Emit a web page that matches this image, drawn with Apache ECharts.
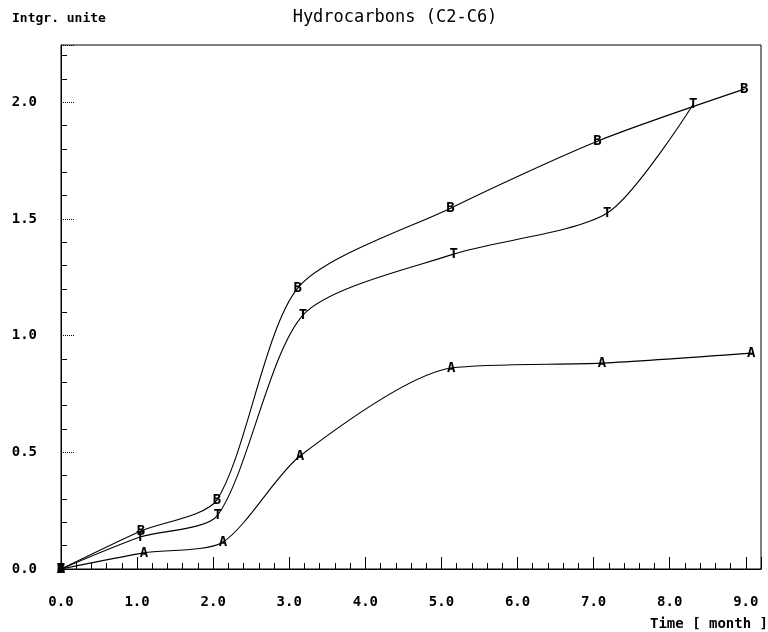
<!DOCTYPE html>
<html>
<head>
<meta charset="utf-8">
<script src="https://cdn.jsdelivr.net/npm/echarts@6/dist/echarts.min.js"></script>
<style>
  html, body { margin: 0; padding: 0; background: #fff; }
  #chart { width: 768px; height: 632px; }
</style>
</head>
<body>
<div id="chart"></div>
<script>
// ---- data ----
const titleText = 'Hydrocarbons (C2-C6)';
const yAxisTitle = 'Intgr. unite';
const xAxisTitle = 'Time [ month ]';

const seriesNames = ['B', 'T', 'A'];

const bX = [0.00, 1.05, 2.05, 3.11, 5.12, 7.05, 8.98];
const bY = [0.00, 0.163, 0.296, 1.203, 1.546, 1.833, 2.056];

const tX = [0.00, 1.04, 2.06, 3.18, 5.16, 7.18, 8.31];
const tY = [0.00, 0.137, 0.231, 1.088, 1.349, 1.525, 1.991];

const aX = [0.00, 1.09, 2.13, 3.14, 5.13, 7.11, 9.07];
const aY = [0.00, 0.069, 0.116, 0.484, 0.861, 0.882, 0.925];

const xMin = 0, xMax = 9.2, xStep = 1;
const yMin = 0, yMax = 2.245, yStep = 0.5;

// ---- chart ----
const pairs = (xs, ys) => xs.map((x, i) => [x, ys[i]]);
const mono = 'DejaVu Sans Mono';

function lineSeries(name, xs, ys) {
  return {
    name: name,
    type: 'line',
    smooth: 0.25,
    data: pairs(xs, ys),
    symbol: 'circle',
    symbolSize: 1,
    showSymbol: true,
    itemStyle: { color: '#000' },
    lineStyle: { color: '#000', width: 1.1 },
    label: {
      show: true,
      position: 'inside',
      formatter: name,
      fontFamily: mono,
      fontSize: 14,
      fontWeight: 'bold',
      color: '#000'
    },
    z: 3
  };
}

const chart = echarts.init(document.getElementById('chart'), null, { renderer: 'canvas' });
chart.setOption({
  animation: false,
  backgroundColor: '#fff',
  title: [
    {
      text: titleText, left: 390, top: 4, textAlign: 'center',
      textStyle: { fontFamily: mono, fontSize: 17, fontWeight: 'normal', color: '#000' }
    },
    {
      text: yAxisTitle, left: 7, top: 7,
      textStyle: { fontFamily: mono, fontSize: 13, fontWeight: 'bold', color: '#000' }
    },
    {
      text: xAxisTitle, left: 763, top: 612, textAlign: 'right',
      textStyle: { fontFamily: mono, fontSize: 14, fontWeight: 'bold', color: '#000' }
    }
  ],
  grid: {
    left: 61, right: 7, top: 45, bottom: 63,
    show: true, borderColor: '#000', borderWidth: 1, backgroundColor: 'transparent'
  },
  xAxis: {
    type: 'value', min: xMin, max: xMax, interval: xStep,
    axisLine: { show: true, onZero: false, lineStyle: { color: '#000', width: 1 } },
    axisTick: { show: true, inside: true, length: 12, lineStyle: { color: '#000' } },
    minorTick: { show: true, splitNumber: 5, length: 6, lineStyle: { color: '#000' } },
    splitLine: { show: false },
    axisLabel: {
      show: true, margin: 26, showMaxLabel: false,
      fontFamily: mono, fontSize: 14, fontWeight: 'bold', color: '#000',
      formatter: v => (Math.abs(v / xStep - Math.round(v / xStep)) < 1e-6 ? v.toFixed(1) : '')
    }
  },
  yAxis: {
    type: 'value', min: yMin, max: yMax, interval: yStep,
    axisLine: { show: true, onZero: false, lineStyle: { color: '#000', width: 1 } },
    axisTick: { show: true, inside: true, length: 14, lineStyle: { color: '#000', type: 'dotted' } },
    minorTick: { show: true, splitNumber: 5, length: 6, lineStyle: { color: '#000' } },
    splitLine: { show: false },
    axisLabel: {
      show: true, margin: 24, showMaxLabel: false,
      fontFamily: mono, fontSize: 14, fontWeight: 'bold', color: '#000',
      formatter: v => (Math.abs(v / yStep - Math.round(v / yStep)) < 1e-6 ? v.toFixed(1) : '')
    }
  },
  series: [
    lineSeries(seriesNames[0], bX, bY),
    lineSeries(seriesNames[1], tX, tY),
    lineSeries(seriesNames[2], aX, aY)
  ]
});
</script>
</body>
</html>
